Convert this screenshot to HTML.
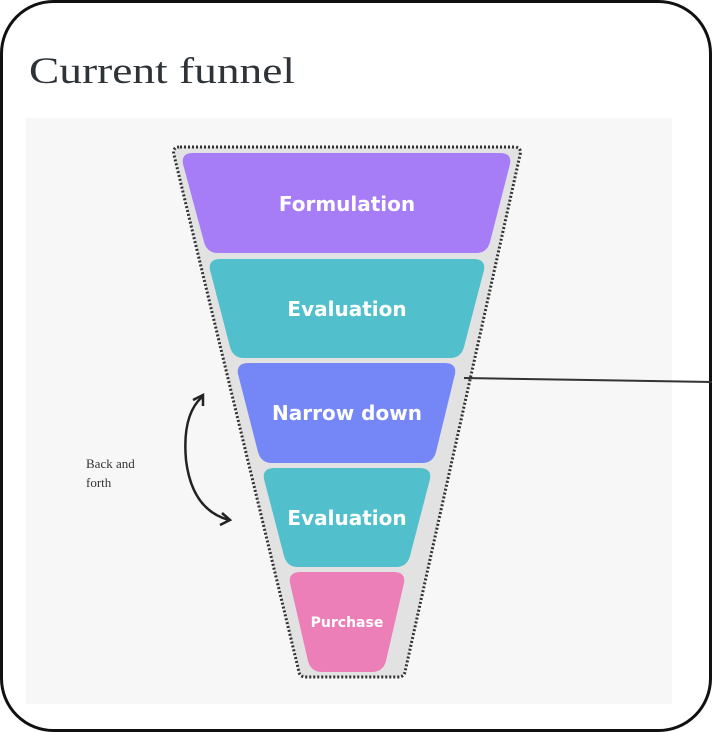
<!DOCTYPE html>
<html><head><meta charset="utf-8"><style>
html,body{margin:0;padding:0;background:#fff;}
svg{display:block;}
</style></head><body>
<svg width="712" height="732" viewBox="0 0 712 732" xmlns="http://www.w3.org/2000/svg">
<rect x="1.5" y="1.5" width="709" height="729" rx="52" fill="#fff" stroke="#111" stroke-width="3"/>
<text x="29" y="83" font-family="Liberation Serif, serif" font-size="37" fill="#2e3338" textLength="266" lengthAdjust="spacingAndGlyphs">Current funnel</text>
<rect x="26" y="118" width="646" height="586" fill="#f7f7f7"/>
<path d="M180 147 L514 147 Q522 147 520 155 L405 672 Q404 677 398 677 L306 677 Q300 677 299 672 L174 155 Q172 147 180 147 Z" fill="#e2e2e2" stroke="#333" stroke-width="3" stroke-dasharray="2 2"/>
<line x1="464" y1="378" x2="712" y2="382" stroke="#333" stroke-width="2"/>
<g font-family="DejaVu Sans, sans-serif" font-weight="bold" fill="#fff" text-anchor="middle">
<path d="M193 153 L500 153 Q512 153 510 164 L490 242 Q487 253 476 253 L218 253 Q207 253 204 242 L183 164 Q181 153 193 153 Z" fill="#a67cf7"/>
<text x="347" y="211" font-size="20">Formulation</text>
<path d="M221 259 L473 259 Q486 259 484 270 L464 347 Q461 358 450 358 L244 358 Q233 358 230 347 L210 270 Q208 259 221 259 Z" fill="#52c0cc"/>
<text x="347" y="316" font-size="20">Evaluation</text>
<path d="M249 363 L444 363 Q457 363 455 374 L436 452 Q433 463 422 463 L272 463 Q261 463 258 452 L238 374 Q236 363 249 363 Z" fill="#7587f7"/>
<text x="347" y="420" font-size="20">Narrow down</text>
<path d="M275 468 L419 468 Q432 468 430 479 L410 556 Q407 567 396 567 L298 567 Q287 567 284 556 L264 479 Q262 468 275 468 Z" fill="#52c0cc"/>
<text x="347" y="525" font-size="20">Evaluation</text>
<path d="M301 572 L393 572 Q406 572 404 583 L386 661 Q383 672 372 672 L322 672 Q311 672 308 661 L290 583 Q288 572 301 572 Z" fill="#ec7fb8"/>
<text x="347" y="627" font-size="14">Purchase</text>
</g>
<text x="86" y="468" font-family="Liberation Serif, serif" font-size="13" fill="#333">Back and</text>
<text x="86" y="487" font-family="Liberation Serif, serif" font-size="13" fill="#333">forth</text>
<path d="M202 397 Q182 415 186 460 Q192 510 229 520" fill="none" stroke="#222" stroke-width="2.5"/>
<path d="M193 400 L203 395 L203 406" fill="none" stroke="#222" stroke-width="2.5"/>
<path d="M222 513 L230 520 L220 525" fill="none" stroke="#222" stroke-width="2.5"/>
</svg>
</body></html>
